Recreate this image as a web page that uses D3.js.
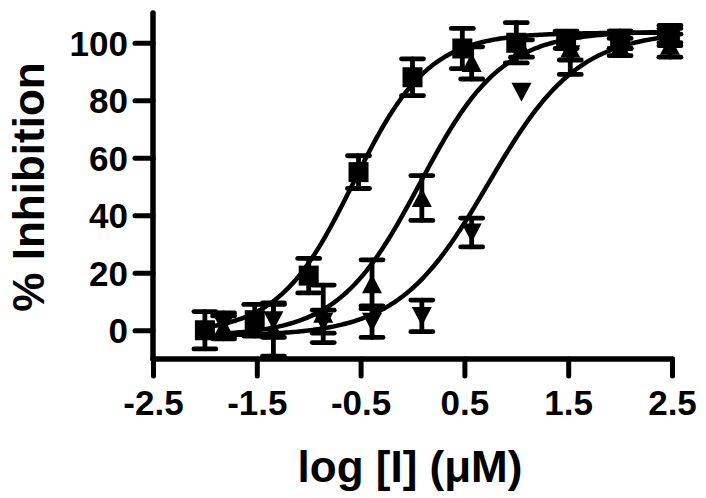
<!DOCTYPE html>
<html>
<head>
<meta charset="utf-8">
<script src="https://cdn.jsdelivr.net/npm/d3@7"></script>
<style>
  html, body { margin: 0; padding: 0; background: #fff; }
  svg { display: block; }
  text { font-family: "Liberation Sans", Arial, Helvetica, sans-serif; font-weight: bold; fill: #000; }
</style>
</head>
<body>
<script>
// ---- Data ----
const xTicks = [-2.5, -1.5, -0.5, 0.5, 1.5, 2.5];
const yTicks = [0, 20, 40, 60, 80, 100];

// Series 1: squares
const squareX   = [-2, -1.52, -1, -0.52, 0, 0.48, 1, 1.48, 2, 2.48];
const squareY   = [0, 3.5, 19, 55, 88, 98, 100, 101, 101, 102];
const squareErr = [6.5, 5.5, 6, 5.7, 6.4, 7, 7, 3, 3, 3];

// Series 2: up triangles
const upX   = [-1.82, -1.34, -0.86, -0.39, 0.09, 0.57, 1.05, 1.52, 2, 2.48];
const upY   = [1, 0, 5.7, 16, 46, 93, 98, 98, 98.5, 99];
const upErr = [4, 9, 10, 8.5, 7.8, 5.6, 3, 4, 3, 4];

// Series 3: down triangles
const downX   = [-1.82, -1.34, -0.86, -0.39, 0.09, 0.57, 1.05, 1.52, 2, 2.48];
const downY   = [2, 3.5, 3, 3, 5, 34, 83, 96, 101, 103];
const downErr = [4, 6, 4, 5.5, 5.5, 5, 0, 7, 3, 3];

// Sigmoidal (4-parameter logistic) fit parameters, one per series
const fitLogEC50 = [-0.57, 0.07, 0.73];
const fitHill    = [1.2, 1.1, 1.0];
const fitBottom  = [-1, -2, -2];
const fitTop     = [103.5, 104, 104];

const xTitle = "log [I] (\u03BCM)";
const yTitle = "% Inhibition";

// ---- Layout ----
const W = 706, H = 498;
const svg = d3.select("body").append("svg").attr("width", W).attr("height", H);

const x = d3.scaleLinear().domain([-2.5, 2.5]).range([153, 672]);
const y = d3.scaleLinear().domain([-10, 110]).range([359, 14]);

const series = [
  { xs: squareX, ys: squareY, es: squareErr, shape: "square" },
  { xs: upX, ys: upY, es: upErr, shape: "up" },
  { xs: downX, ys: downY, es: downErr, shape: "down" }
];

// ---- Fitted curves ----
const line = d3.line().x(d => x(d[0])).y(d => y(d[1])).curve(d3.curveLinear);
series.forEach((s, i) => {
  const [x0, x1] = d3.extent(s.xs);
  const pts = d3.range(0, 201).map(k => {
    const xv = x0 + (x1 - x0) * k / 200;
    const yv = fitBottom[i] + (fitTop[i] - fitBottom[i]) / (1 + Math.pow(10, (fitLogEC50[i] - xv) * fitHill[i]));
    return [xv, yv];
  });
  svg.append("path").attr("d", line(pts))
    .attr("fill", "none").attr("stroke", "#000").attr("stroke-width", 4.5)
    .attr("stroke-linecap", "round");
});

// ---- Error bars ----
const capW = 11;
series.forEach(s => {
  const g = svg.append("g").attr("stroke", "#000").attr("stroke-width", 4.8).attr("stroke-linecap", "round");
  s.xs.forEach((xv, j) => {
    const e = s.es[j];
    if (!e) return;
    const cx = x(xv), yt = y(s.ys[j] + e), yb = y(s.ys[j] - e);
    g.append("line").attr("x1", cx).attr("x2", cx).attr("y1", yt).attr("y2", yb);
    g.append("line").attr("x1", cx - capW).attr("x2", cx + capW).attr("y1", yt).attr("y2", yt);
    g.append("line").attr("x1", cx - capW).attr("x2", cx + capW).attr("y1", yb).attr("y2", yb);
  });
});

// ---- Markers ----
function markerPath(shape) {
  if (shape === "square") return "M-10,-10H10V10H-10Z";
  if (shape === "up") return "M-10,9L10,9L0,-10Z";
  return "M-10,-9L10,-9L0,10Z";
}
series.forEach(s => {
  svg.append("g").selectAll("path").data(s.xs.map((xv, j) => [xv, s.ys[j]]))
    .join("path")
    .attr("transform", d => `translate(${x(d[0])},${y(d[1])})`)
    .attr("d", markerPath(s.shape))
    .attr("fill", "#000");
});

// ---- Axes ----
const xAxis = d3.axisBottom(x).tickValues(xTicks).tickSize(17).tickFormat(d => String(d));
const gx = svg.append("g").attr("transform", "translate(0,359)").call(xAxis);
gx.select(".domain").remove();
gx.selectAll(".tick line").attr("stroke", "#000").attr("stroke-width", 5).attr("stroke-linecap", "round");
gx.selectAll(".tick text").attr("y", 56).attr("dy", 0).style("font-size", "35px");

const yAxis = d3.axisLeft(y).tickValues(yTicks).tickSize(18).tickFormat(d => String(d));
const gy = svg.append("g").attr("transform", "translate(153,0)").call(yAxis);
gy.select(".domain").remove();
gy.selectAll(".tick line").attr("stroke", "#000").attr("stroke-width", 5).attr("stroke-linecap", "round");
gy.selectAll(".tick text").attr("x", -25).attr("dy", "0.36em").style("font-size", "35px");

// axis lines
svg.append("line").attr("x1", 153).attr("x2", 153).attr("y1", 13).attr("y2", 359)
  .attr("stroke", "#000").attr("stroke-width", 5.5).attr("stroke-linecap", "round");
svg.append("line").attr("x1", 153).attr("x2", 672).attr("y1", 359).attr("y2", 359)
  .attr("stroke", "#000").attr("stroke-width", 5.5).attr("stroke-linecap", "round");

// ---- Titles ----
svg.append("text").attr("x", 410).attr("y", 482).attr("text-anchor", "middle")
  .style("font-size", "44px").text(xTitle);
svg.append("text").attr("transform", "translate(44,187) rotate(-90)").attr("text-anchor", "middle")
  .style("font-size", "44px").text(yTitle);
</script>
</body>
</html>
